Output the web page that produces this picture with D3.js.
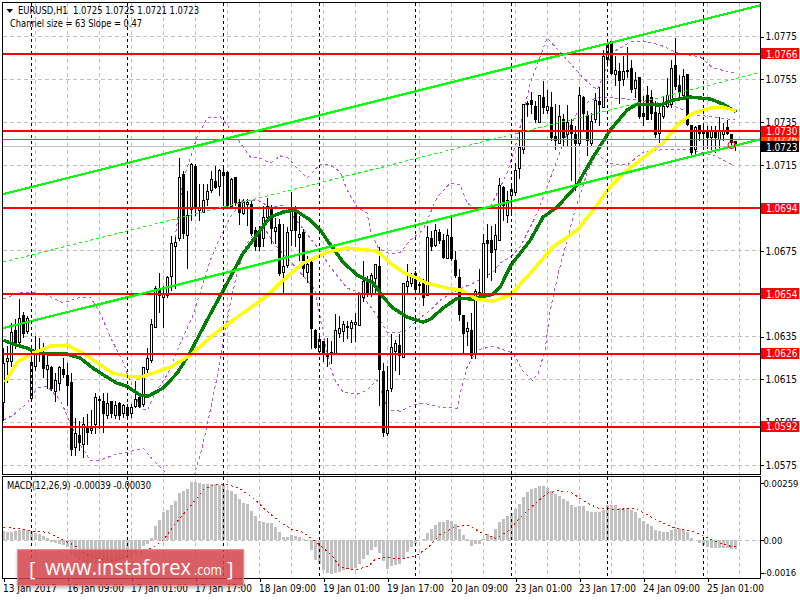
<!DOCTYPE html>
<html>
<head>
<meta charset="utf-8">
<script src="https://cdn.jsdelivr.net/npm/d3@7"></script>
<style>
html,body{margin:0;padding:0;background:#fff;overflow:hidden}
svg{display:block}
text{font-family:"DejaVu Sans Condensed","DejaVu Sans",sans-serif;font-size:10px;fill:#000;white-space:pre}
</style>
</head>
<body>
<svg id="c" width="800" height="600"></svg>
<script>
// ---- data: prices in pips above priceBase ----
const priceBase = 1.05;
const opens = [103.5,122.6,122.6,137.1,131.5,144.1,136.6,105.3,120.3,126.4,
126.8,118.9,119.8,108.6,112.3,118.9,116.1,112.8,82.5,88.1,
83.9,91.8,90.4,93.2,104.4,103.9,97.4,103.9,97.4,103.0,
98.3,101.1,98.3,101.6,105.8,102.5,118.9,123.1,138.5,155.8,
152.5,153.4,162.3,176.3,180.1,209.9,181.4,193.6,213.7,193.1,
192.2,198.3,202.5,206.7,204.3,210.9,210.9,195.0,208.5,196.9,
191.7,195.9,195.9,183.8,182.9,180.1,189.9,194.1,183.3,186.6,
164.2,167.4,183.8,194.5,180.5,182.9,164.2,168.8,137.1,127.3,
132.0,126.4,125.9,125.9,135.7,136.6,138.5,138.0,139.9,139.4,
152.5,160.9,153.9,161.4,167.0,118.0,89.0,110.0,127.3,130.1,
124.5,157.6,159.0,163.7,158.1,159.0,153.4,180.1,176.8,182.9,
178.7,170.7,180.5,169.8,161.8,144.1,136.6,137.1,125.9,154.4,
153.4,178.7,178.7,174.9,179.1,203.9,190.8,200.1,201.5,212.7,
221.2,242.6,244.5,241.7,234.2,245.9,239.4,240.8,227.7,224.4,
235.6,228.2,232.8,228.6,224.0,245.9,237.5,224.4,235.2,243.6,
241.2,263.2,271.6,256.6,257.6,254.3,258.5,259.4,250.1,254.8,
238.4,246.8,245.9,238.9,229.1,237.0,241.7,242.2,260.4,251.5,
246.8,256.6,232.8,221.2,232.8,230.5,229.6,227.2,230.5,226.3,
228.6,231.9,228.6,225.0];
const closes = [121.7,124.0,136.2,130.1,142.7,135.7,142.7,122.1,125.9,127.8,
119.3,120.8,110.0,113.7,119.8,116.5,111.4,81.5,89.0,84.8,
93.2,89.5,91.3,105.8,104.9,98.3,103.0,98.3,102.1,97.4,
102.1,97.4,101.1,104.9,101.6,119.8,124.0,139.9,156.7,153.4,
153.9,161.8,177.7,178.2,208.5,182.4,190.8,214.6,194.1,194.1,
197.8,202.0,207.6,203.9,211.8,209.5,195.5,207.6,196.9,192.2,
196.9,196.9,182.4,175.9,176.3,189.9,195.0,184.7,185.2,163.7,
167.0,182.9,193.1,183.8,181.9,166.0,167.9,138.0,129.2,132.9,
126.4,125.0,126.8,137.1,138.0,139.9,139.0,140.8,140.8,153.9,
160.0,153.9,162.8,167.9,118.9,89.5,109.1,129.2,131.0,125.4,
159.0,160.0,162.8,156.2,158.6,152.5,180.5,175.9,183.8,179.1,
171.2,181.4,170.7,162.8,144.6,135.7,138.0,125.4,155.3,154.8,
177.7,177.3,173.5,181.4,204.8,195.5,197.8,202.9,211.8,222.5,
242.6,243.1,242.2,235.2,246.8,240.8,241.7,226.8,225.4,236.6,
227.2,233.8,229.1,224.4,246.8,238.4,225.4,234.7,244.5,242.2,
264.6,270.7,257.1,258.5,253.4,257.6,258.0,249.2,253.8,236.6,
237.0,235.6,238.4,228.2,238.0,241.7,246.4,259.4,250.6,247.8,
255.7,233.3,220.2,231.9,229.1,229.1,227.2,230.5,227.2,229.6,
230.0,229.1,224.9,223.0];
const highs = [129.2,130.1,140.8,142.7,152.0,146.0,144.1,125.4,134.8,133.8,
131.5,125.9,120.8,117.5,120.8,124.5,122.2,117.5,96.5,95.1,
96.9,98.3,100.2,108.1,106.7,108.1,108.1,104.4,104.4,103.9,
103.0,103.0,103.0,113.7,107.7,120.3,129.2,142.7,158.1,164.2,
158.1,162.8,181.4,181.0,217.9,211.8,202.5,215.5,215.1,205.7,
205.7,205.7,211.8,214.1,212.7,214.1,211.8,208.5,209.0,198.7,
198.7,198.7,197.8,185.7,186.1,195.5,199.2,195.9,189.9,189.4,
187.1,185.7,202.0,195.5,190.8,184.7,172.1,169.8,138.0,134.8,
132.4,133.8,132.4,145.0,144.1,141.8,141.8,142.2,145.5,153.9,
169.8,162.8,164.2,167.9,175.9,122.2,120.8,135.7,132.9,135.7,
159.0,168.4,164.2,165.1,161.4,161.4,186.1,183.8,187.1,184.7,
182.4,184.7,190.8,174.4,166.0,144.1,141.3,145.5,156.7,166.0,
182.4,187.1,186.1,187.1,208.5,204.8,202.5,205.7,215.5,230.5,
243.1,244.5,248.7,244.5,246.8,253.8,249.2,248.7,243.1,242.2,
238.4,242.2,236.1,232.8,250.6,246.8,239.8,238.9,248.2,250.6,
267.9,271.6,271.6,265.5,262.2,265.5,269.7,263.2,257.6,255.7,
246.8,251.5,249.2,244.5,242.2,246.8,255.2,263.2,273.5,256.2,
259.4,257.1,232.8,232.8,232.8,232.8,232.8,232.8,232.8,236.6,
234.2,235.6,228.6,225.0];
const lows = [95.1,112.8,120.3,128.7,131.0,133.8,135.7,104.4,118.4,122.6,
115.1,110.0,109.1,103.9,109.1,115.1,102.1,78.7,78.7,81.1,
77.8,83.9,89.0,89.0,91.3,89.5,96.0,96.5,96.0,95.5,
96.5,95.5,96.5,101.1,101.1,101.6,117.5,122.2,138.5,145.5,
138.5,152.5,155.8,156.7,179.1,180.1,166.0,188.5,190.8,188.5,
192.2,195.5,201.5,203.4,200.1,195.5,194.5,194.5,195.5,186.6,
191.3,186.1,181.4,174.4,174.4,176.3,188.5,177.7,177.7,162.8,
154.4,166.5,176.8,176.3,169.8,162.3,159.5,128.7,128.7,127.3,
122.6,120.3,121.7,125.9,133.8,132.0,133.4,131.5,132.0,139.4,
150.6,153.0,153.0,154.4,102.1,87.6,88.1,108.6,118.4,116.5,
124.5,153.9,157.6,154.8,154.4,148.8,153.4,174.4,175.9,177.3,
170.7,170.7,169.8,161.8,141.8,126.8,130.1,124.0,124.0,153.4,
153.4,161.8,160.4,164.2,178.7,188.5,187.5,190.8,200.1,208.1,
219.7,237.0,238.4,234.2,233.8,238.4,238.4,225.8,221.2,224.4,
223.5,222.6,207.1,202.5,223.5,230.5,218.4,223.5,233.8,232.8,
241.2,262.2,256.2,251.5,243.1,251.5,254.8,248.2,245.9,236.1,
232.4,235.2,235.2,227.2,223.5,236.1,240.8,241.2,249.6,244.5,
245.9,232.4,219.3,218.4,225.8,222.1,222.1,221.2,220.2,221.2,
225.8,228.2,222.1,221.0];

const greenIdx = [0,2.4,5.9,8.4,11.7,15.9,19.2,22.4,25.9,28.4,30.9,34.2,36.2,39.9,43.4,46.7,50.9,55.9,59.9,62.4,64.2,66.7,69.9,72.9,76.7,79.2,80.9,84.9,88.4,92.4,94.9,97.4,100.9,104.9,106.7,109.9,113.4,117.4,122.4,124.2,126.7,131.7,134.9,138.4,143.4,147.4,151.7,155.9,158.4,164.2,167.4,171.7,176.7,179.9,183.2];
const greenVal = [132.4,130.6,128.7,126.4,125.9,125.9,124.0,119.3,115.1,112.3,110.9,106.7,106.3,110.0,117.0,126.8,141.8,159.0,173.0,179.1,183.8,189.9,192.2,193.1,188.5,183.8,179.1,168.8,162.8,159.0,152.5,147.4,143.2,140.8,142.2,147.4,152.0,151.6,153.9,157.2,167.0,179.1,189.9,194.5,204.8,217.9,230.5,239.8,242.6,242.2,244.5,245.9,245.0,242.6,238.9];
const yellowIdx = [0.4,3.4,7.4,11.7,15.9,19.9,24.2,27.4,30.9,34.2,37.4,41.7,46.7,52.4,57.4,63.4,66.7,69.9,74.9,80.9,85.9,93.4,96.7,99.9,105.9,110.9,114.2,118.4,122.4,126.7,131.7,137.4,143.4,148.0,151.0,155.0,162.4,164.9,168.4,172.4,176.7,179.9,183.2];
const yellowVal = [112.8,122.1,126.4,129.6,130.1,126.4,120.8,117.0,115.6,115.1,117.0,119.8,125.4,134.8,141.8,149.7,154.4,160.4,168.4,173.5,175.4,174.0,168.4,164.2,159.0,156.7,155.8,151.6,150.6,153.4,163.7,175.9,183.8,194.5,202.5,210.4,221.2,224.4,232.8,238.4,240.8,241.2,239.4];

const bandUpIdx = [42.9,44.9,48.4,50.9,54.2,55.9,59.2,61.7,64.2,66.7,69.2,71.2,73.4,75.9,79.2,81.7,84.2,85.9,88.4,90.9,91.7,93.7,96.7,99.2,101.7,104.9,108.4,111.7,114.2,115.9,117.4,121.7,125.9,128.4,131.7,135.9,140.9,144.9,148.4,152.4,156.7,159.9,164.2,168.4,174.2,177.4,182.9];
const bandUpVal = [180.1,207.1,227.2,236.1,236.6,232.8,224.4,217.9,217.4,215.1,218.4,217.4,212.7,208.1,214.6,214.1,210.9,202.5,194.5,191.7,183.8,175.4,172.6,173.5,179.1,183.8,199.2,205.7,204.8,196.4,194.5,194.5,210.4,225.8,252.4,273.5,263.2,254.8,249.2,266.9,271.6,272.1,270.2,266.5,264.6,259.4,257.1];
const bandMidIdx = [0,4.2,7.4,10.9,14.9,19.2,21.7,24.2,26.7,29.9,34.2,36.0,37.9,41.2,44.2,47.2,49.2,51.7,54.2,56.7,59.9,63.4,66.7,69.9,74.2,78.4,81.7,85.9,89.2,92.4,95.9,99.2,100.9,103.4,106.7,109.2,113.4,117.4,122.4,124.2,126.7,129.2,133.4,134.7,138.4,141.7,144.2,146.7,149.2,159.2,166.7,173.4,182.9];
const bandMidVal = [151.6,154.8,154.8,153.4,149.7,152.5,152.5,145.0,133.8,122.1,100.7,99.7,107.7,117.0,131.0,143.2,154.8,169.8,180.5,189.9,197.8,197.8,194.5,195.5,186.1,175.9,166.5,156.7,154.4,146.4,136.2,136.2,137.1,141.8,146.4,151.1,155.8,159.0,164.2,168.4,171.2,175.9,191.7,197.8,216.5,232.8,240.8,244.5,245.9,244.5,242.2,237.5,235.2];
const bandLowIdx = [0,2.4,5.9,8.4,10.9,14.2,17.2,19.2,21.7,24.2,27.4,30.9,34.9,37.4,40.4,44.2,46.7,47.9,49.7,51.7,53.4,54.9,56.7,58.4,60.9,64.7,67.9,74.1,77.9,79.9,81.7,82.9,84.9,88.4,90.9,93.4,96.2,99.2,102.4,104.9,109.2,113.4,114.2,115.9,118.4,122.4,127.4,129.7,132.2,133.7,135.4,136.7,138.7,140.9,142.2,143.7,145.9,148.4,150.9,155.9,159.9,164.2,171.7,177.4,182.4];
const bandLowVal = [95.1,97.4,103.0,110.0,110.9,104.4,91.8,83.4,76.4,76.4,78.7,80.1,82.0,76.4,70.8,60.0,60.0,70.8,82.4,99.7,115.1,131.0,149.7,163.7,177.7,186.1,176.8,164.2,155.8,135.7,119.8,113.7,108.1,107.2,109.1,113.7,99.7,99.3,102.1,103.0,101.1,100.7,107.7,119.8,127.8,129.6,126.4,118.4,113.7,117.0,127.8,146.4,163.7,179.1,188.5,197.8,210.4,219.7,215.1,214.1,220.2,221.2,221.2,218.8,214.1];

const channelIdx = [-0.1,189.2];
const channelUpper = [200.6,288.7];
const channelMiddle = [168.9,257.4];
const channelLower = [138.0,226.2];

const levels = [1.0766,1.0730,1.0694,1.0654,1.0626,1.0592];
const orangeLevel = 1.0726;
const bidPrice = 1.07226;
const markerIdx = 182, markerPips = 223.5;

const priceGridPips = [274.1,254.1,234.1,214.1,194.1,174.1,154.1,134.1,114.1,94.1,74.1];
const priceTickLabels = ["1.0775","1.0755","1.0735","1.0715","1.0695","1.0675","1.0655","1.0635","1.0615","1.0595","1.0575"];

const timeTickIdx = [0,16,32,48,64,80,96,112,128,144,160,176];
const timeTickLabels = ["13 Jan 2017","16 Jan 09:00","17 Jan 01:00","17 Jan 17:00","18 Jan 09:00","19 Jan 01:00","19 Jan 17:00","20 Jan 09:00","23 Jan 01:00","23 Jan 17:00","24 Jan 09:00","25 Jan 01:00"];
const timeGridIdx = d3.range(8,185,8);
const daySeparatorIdx = [7,31,55,79,103,127,151,175];

// MACD values in units of 1e-5
const macdHist = [44,38,38,42,47,50,47,44,35,27,20,12,-6,-12,-18,-23,-30,-61,-76,-91,-98,-106,-109,-114,-114,-109,-106,-106,-94,-91,-83,-73,-64,-53,-42,-27,-15,12,65,92,127,138,161,180,217,224,232,265,264,259,256,256,255,256,253,251,229,223,211,188,168,164,135,111,89,83,80,77,62,39,15,17,24,21,14,5,-2,-45,-88,-106,-133,-148,-155,-148,-144,-133,-129,-129,-124,-106,-83,-68,-45,-30,-58,-94,-129,-118,-114,-109,-83,-53,-30,-15,0,6,33,50,70,83,83,91,86,73,50,23,6,-24,-18,-15,8,27,21,50,83,97,112,124,142,164,197,220,232,236,247,247,239,223,212,200,186,177,162,152,158,156,132,130,129,130,139,159,161,159,148,148,145,139,129,103,88,76,64,45,41,38,38,47,50,52,47,36,12,2,-12,-20,-30,-33,-35,-36,-36,-36,-38,-41];
const signalIdx = [0,3,7.5,11,14,17.5,21,24,28,31,34,37.5,40,43,47,50,53,56,59,62.5,66,69,72,75,78,82,84,87.5,91,93,96,99,103,106,109,113,116,119.5,123,126,129,132.5,136,138.8,142,146,149,153,158,161,165,168,173,175,178,182,183];
const signalVal = [58,55,42,36,9,-21,-67,-86,-92,-74,-56,-32,2,77,161,232,253,253,236,191,130,85,50,36,-6,-67,-120,-136,-120,-86,-77,-85,-71,-36,24,62,68,35,9,39,100,161,214,226,217,168,144,141,144,115,77,55,36,21,-6,-29,-29];
const macdTickVals = [259,0,-148];
const macdTickLabels = ["0.00259","0.00","-0.0016"];

const headerText = "EURUSD,H1  1.0725 1.0725 1.0721 1.0723";
const channelText = "Channel size = 63 Slope = 0.47";
const macdText = "MACD(12,26,9) -0.00039 -0.00030";

// ---- scales ----
const L=2.5,R=760.5,T=2.5,B1=474.5,T2=476.5,B2=578.5;
const x = d3.scaleLinear().domain([0,184]).range([3.5,739.5]);
const yPrice = d3.scaleLinear().domain([1.05697,1.07898]).range([474.5,3]);
const yPip = p => yPrice(priceBase + p/1e4);
const yMacd = d3.scaleLinear().domain([-176,290]).range([579,476.5]);
const snap = v => Math.round(v-0.5)+0.5;

const svg = d3.select("#c");
const defs = svg.append("defs");
defs.append("clipPath").attr("id","main").append("rect").attr("x",L).attr("y",T).attr("width",R-L).attr("height",B1-T);
defs.append("clipPath").attr("id","sub").append("rect").attr("x",L).attr("y",T2).attr("width",R-L).attr("height",B2-T2);
const sh = defs.append("filter").attr("id","soft").attr("x","-5%").attr("y","-20%").attr("width","110%").attr("height","150%");
sh.append("feGaussianBlur").attr("in","SourceAlpha").attr("stdDeviation",1.6).attr("result","b");
sh.append("feOffset").attr("in","b").attr("dy",1.5).attr("result","o");
sh.append("feFlood").attr("flood-color","#000").attr("flood-opacity",0.3);
sh.append("feComposite").attr("in2","o").attr("operator","in").attr("result","s");
const mg = sh.append("feMerge"); mg.append("feMergeNode").attr("in","s"); mg.append("feMergeNode").attr("in","SourceGraphic");

// ---- grid ----
const grid = svg.append("g").attr("shape-rendering","crispEdges").attr("stroke","#c0c0c0").attr("stroke-dasharray","4,3").attr("fill","none");
grid.selectAll(".h").data(priceGridPips).join("line").attr("x1",L).attr("x2",R)
  .attr("y1",d=>snap(yPip(d))).attr("y2",d=>snap(yPip(d)));
grid.selectAll(".v").data(timeGridIdx).join("line").attr("y1",T).attr("y2",B2)
  .attr("x1",d=>x(d)).attr("x2",d=>x(d));
grid.append("line").attr("x1",L).attr("x2",R).attr("y1",snap(yMacd(0))).attr("y2",snap(yMacd(0)));

// ---- main panel ----
const main = svg.append("g").attr("clip-path","url(#main)");
const lineOf = (idx,vals) => d3.line().x((d,i)=>x(idx[i])).y(d=>yPip(d))(vals);

[[bandUpIdx,bandUpVal],[bandMidIdx,bandMidVal],[bandLowIdx,bandLowVal]].forEach(([a,b])=>{
  main.append("path").attr("d",lineOf(a,b)).attr("fill","none").attr("stroke","#ba55d3").attr("stroke-width",1).attr("stroke-dasharray","3,3").attr("shape-rendering","crispEdges");
});

// candles
const candles = main.append("g").attr("shape-rendering","crispEdges");
const idxs = d3.range(opens.length);
candles.selectAll(".w").data(idxs).join("line")
  .attr("x1",i=>x(i)).attr("x2",i=>x(i)).attr("y1",i=>snap(yPip(highs[i]))).attr("y2",i=>snap(yPip(lows[i]))+0.5)
  .attr("stroke","#000").attr("stroke-width",1);
candles.selectAll(".b").data(idxs).join("rect")
  .attr("x",i=>x(i)-1).attr("width",2)
  .attr("y",i=>snap(yPip(Math.max(opens[i],closes[i]))))
  .attr("height",i=>Math.max(1,snap(yPip(Math.min(opens[i],closes[i])))-snap(yPip(Math.max(opens[i],closes[i])))))
  .attr("fill",i=>closes[i]>=opens[i]?"#fff":"#000").attr("stroke","#000").attr("stroke-width",1);

main.append("path").attr("d",lineOf(greenIdx,greenVal)).attr("fill","none").attr("stroke","#008000").attr("stroke-width",3.4).attr("stroke-linejoin","round").attr("shape-rendering","crispEdges");
main.append("path").attr("d",lineOf(yellowIdx,yellowVal)).attr("fill","none").attr("stroke","#ffff00").attr("stroke-width",3.4).attr("stroke-linejoin","round").attr("shape-rendering","crispEdges");

// horizontal levels
const lv = main.append("g").attr("shape-rendering","crispEdges");
lv.append("line").attr("x1",L).attr("x2",R).attr("y1",snap(yPrice(bidPrice))).attr("y2",snap(yPrice(bidPrice))).attr("stroke","#c0c0c0");
lv.append("line").attr("x1",L).attr("x2",R).attr("y1",snap(yPrice(orangeLevel))).attr("y2",snap(yPrice(orangeLevel))).attr("stroke","#ff4500");
lv.selectAll(".lv").data(levels).join("rect").attr("x",L).attr("width",R-L)
  .attr("y",d=>Math.round(yPrice(d))-1).attr("height",2).attr("fill","#ff0000");

// channel
main.append("path").attr("d",lineOf(channelIdx,channelUpper)).attr("stroke","#00ff00").attr("stroke-width",2.2).attr("fill","none").attr("shape-rendering","crispEdges");
main.append("path").attr("d",lineOf(channelIdx,channelLower)).attr("stroke","#00ff00").attr("stroke-width",2.2).attr("fill","none").attr("shape-rendering","crispEdges");
main.append("path").attr("d",lineOf(channelIdx,channelMiddle)).attr("stroke","#00ff00").attr("stroke-width",1).attr("stroke-dasharray","3,3").attr("fill","none").attr("shape-rendering","crispEdges");

main.append("circle").attr("cx",x(markerIdx)).attr("cy",yPip(markerPips)).attr("r",3.5).attr("fill","none").attr("stroke","#ff0000");

// ---- MACD panel ----
const sub = svg.append("g").attr("clip-path","url(#sub)");
sub.append("g").attr("shape-rendering","crispEdges").selectAll("rect").data(macdHist).join("rect")
  .attr("x",(d,i)=>x(i)-1.5).attr("width",3)
  .attr("y",d=>Math.min(yMacd(d),yMacd(0))).attr("height",d=>Math.abs(yMacd(d)-yMacd(0)))
  .attr("fill","#c0c0c0");
sub.append("path").attr("d",d3.line().x((d,i)=>x(signalIdx[i])).y(d=>yMacd(d))(signalVal))
  .attr("fill","none").attr("stroke","#ff0000").attr("stroke-width",1).attr("stroke-dasharray","2,3").attr("shape-rendering","crispEdges");

// day separators
svg.append("g").attr("shape-rendering","crispEdges").selectAll("line").data(daySeparatorIdx).join("line")
  .attr("x1",d=>x(d)).attr("x2",d=>x(d)).attr("y1",T).attr("y2",B2)
  .attr("stroke","#000").attr("stroke-dasharray","3,3");

// ---- axes ----
const axP = d3.axisRight(yPrice).tickValues(priceGridPips.map(p=>priceBase+p/1e4))
  .tickFormat((d,i)=>priceTickLabels[i]).tickSize(3).tickPadding(2);
const gP = svg.append("g").attr("transform",`translate(${R},0)`).call(axP);
gP.select(".domain").remove();
const axM = d3.axisRight(yMacd).tickValues(macdTickVals).tickFormat((d,i)=>macdTickLabels[i]).tickSize(3).tickPadding(0);
const gM = svg.append("g").attr("transform",`translate(${R},0)`).call(axM);
gM.select(".domain").remove();
const axT = d3.axisBottom(x).tickValues(timeTickIdx).tickFormat((d,i)=>timeTickLabels[i]).tickSize(3).tickPadding(3);
const gT = svg.append("g").attr("transform",`translate(0,${B2})`).call(axT);
gT.select(".domain").remove();
gT.selectAll("text").attr("text-anchor","start").attr("x",-1);
svg.selectAll(".tick line").attr("shape-rendering","crispEdges");
svg.selectAll(".tick text").style("font-family",'"DejaVu Sans Condensed","DejaVu Sans",sans-serif').style("font-size","10px");
gM.selectAll("text").style("font-size","9.4px");

// frames
svg.append("g").attr("shape-rendering","crispEdges").attr("fill","none").attr("stroke","#000")
  .call(g=>{
    g.append("rect").attr("x",L).attr("y",T).attr("width",R-L).attr("height",B1-T);
    g.append("rect").attr("x",L).attr("y",T2).attr("width",R-L).attr("height",B2-T2);
  });

// price boxes
function box(price,fill,labelFill){
  const cy = yPrice(price);
  const g = svg.append("g");
  g.append("rect").attr("x",761).attr("y",Math.round(cy-5.5)).attr("width",38).attr("height",11).attr("fill",fill);
  g.append("text").attr("x",766).attr("y",cy).attr("dy","0.36em").style("fill",labelFill).text(price.toFixed(4));
}
box(orangeLevel,"#ff4500","#fff");
levels.forEach(v=>box(v,"#ff0000","#fff"));
box(bidPrice,"#000","#fff");

// headers
const lab = (t,xx,yy,len)=>svg.append("text").attr("x",xx).attr("y",yy).attr("textLength",len).attr("lengthAdjust","spacingAndGlyphs").text(t);
svg.append("path").attr("d",d3.line()([[6.5,9],[13,9],[9.75,13]])+"Z").attr("fill","#000");
lab(headerText,18,14,181);
lab(channelText,10,27,132);
lab(macdText,7,489,144);

// watermark
const wm = svg.append("g");
wm.append("rect").attr("x",17.5).attr("y",549.5).attr("width",226).attr("height",36)
  .attr("fill","#d9444b").attr("fill-opacity",0.8).attr("stroke","#e98b8b").attr("stroke-width",1).attr("filter","url(#soft)");
const wt = (t,xx,yy,fs,len)=>{const e=wm.append("text").attr("x",xx).attr("y",yy).style("font-family","'Open Sans','Noto Sans',sans-serif").style("font-size",fs+"px").style("fill","#fff").text(t);
  if(len) e.attr("textLength",len).attr("lengthAdjust","spacingAndGlyphs");};
wt("[",29,576,20);
wt("www.instaforex",45,575,22,146);
wt(".com",194,575,14,28);
wt("]",227,576,20);
</script>
</body>
</html>
